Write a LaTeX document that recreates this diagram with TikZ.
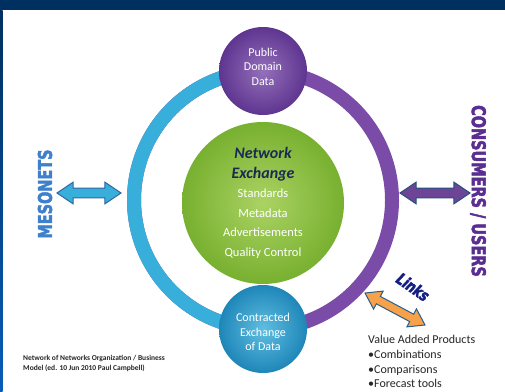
\documentclass[tikz,border=0pt]{standalone}
\usepackage{fontspec}
\setmainfont{Carlito}
\newfontfamily\heavyfont{DejaVu Sans}[FakeStretch=0.76, BoldFeatures={FakeBold=2.5}, BoldItalicFeatures={FakeBold=2.5}]
\usepackage{tikz}
\usetikzlibrary{shapes.arrows}
\definecolor{navy}{HTML}{00305F}
\definecolor{edgeblue}{HTML}{0A5CB8}
\definecolor{cy}{HTML}{38AEDA}
\definecolor{cydark}{HTML}{1E86B8}
\definecolor{pu}{HTML}{7A4CA8}
\definecolor{pudark}{HTML}{5E3590}
\definecolor{gr}{HTML}{9CCB48}
\definecolor{grdark}{HTML}{78B030}
\definecolor{ink}{HTML}{1B2A55}
\definecolor{orng}{HTML}{F7A24B}
\definecolor{meso}{HTML}{3F80CC}
\definecolor{cons}{HTML}{5A2D91}
\newcommand{\hubtitle}[1]{{\fontsize{16}{20}\selectfont\bfseries\itshape\color{ink}#1}}
\tikzstyle{bubble} = [circle, minimum size=88pt, inner sep=0pt]
\tikzstyle{bubtext} = [text=white, align=center, inner sep=0pt, font=\fontsize{12}{14.5}\selectfont]
\tikzstyle{fatarrow} = [double arrow, double arrow head extend=6pt, double arrow tip angle=68, inner sep=4.3pt, minimum width=20pt, line width=1pt]
\tikzstyle{wordart} = [font=\heavyfont\bfseries\fontsize{19}{19}\selectfont, inner sep=0pt]

\begin{document}
\begin{tikzpicture}[x=1pt,y=-1pt]
			\useasboundingbox (0,0) rectangle (505,391);
			\fill[white] (0,0) rectangle (505,391);
			\fill[navy] (0,0) rectangle (505,10);
			\shade[top color=navy, bottom color=edgeblue] (0,10) rectangle (2.5,391);
			\coordinate (hub) at (263,200);
			\draw[pu, line width=14pt] (hub) circle[radius=129];
			\draw[cy, line width=14pt] (263,71) arc[start angle=270, end angle=90, radius=129];
			\node[bubble, shade, shading=radial, inner color=pu!80!white, outer color=pudark] (pub) at (263,71) {};
			\node[bubtext] (pubtext) at ([yshift=4.5pt]pub) {Public\\Domain\\Data};
			\node[bubble, shade, shading=radial, inner color=cy!80!white, outer color=cydark] (contract) at (263,329) {};
			\node[bubtext] (contracttext) at ([yshift=-3pt]contract) {Contracted\\Exchange\\of Data};
			\node[circle, minimum size=162pt, inner sep=0pt, shade, shading=radial, inner color=gr!85!white, outer color=grdark, text=white, align=center, font=\fontsize{12.5}{19.5}\selectfont] (core) at (263,203) {\hubtitle{Network}\\\hubtitle{Exchange}\\Standards\\Metadata\\Advertisements\\Quality Control};
			\node[wordart, text=meso, rotate=90] (mesonets) at (45,194) {MESONETS};
			\node[wordart, text=cons, rotate=-90] (consumers) at (478,191) {CONSUMERS / USERS};
			\node[font=\heavyfont\bfseries\itshape\fontsize{16}{16}\selectfont, text=ink!75!blue, rotate=-35, inner sep=0pt] (links) at (413,287) {Links};
			\coordinate (mesoL) at (57,193);
			\coordinate (mesoR) at (121,193);
			\coordinate (consL) at (400,193);
			\coordinate (consR) at (470,193);
			\coordinate (linkA) at (365,293);
			\coordinate (linkB) at (425,325);
			\path (mesoL) -- node[fatarrow, fill=cy, draw=meso!80!black, minimum height=64pt]{} (mesoR);
			\path (consL) -- node[fatarrow, fill=pu!90!black, draw=ink!70!cy, minimum height=70pt]{} (consR);
			\path (linkA) -- node[fatarrow, sloped, fill=orng, draw=ink!60!cy, minimum height=68pt, minimum width=17pt, inner sep=3.7pt]{} (linkB);
			\node[anchor=north west, align=left, font=\fontsize{12}{14.8}\selectfont, inner sep=0pt, text=black!85] (products) at (368,335) {Value Added Products\\•Combinations\\•Comparisons\\•Forecast tools};
			\node[anchor=west, align=left, font=\bfseries\fontsize{7.5}{10}\selectfont, inner sep=0pt, text=black!85] (credit) at (23,363) {Network of Networks Organization / Business\\Model (ed. 10 Jun 2010 Paul Campbell)};
		\end{tikzpicture}
\end{document}
